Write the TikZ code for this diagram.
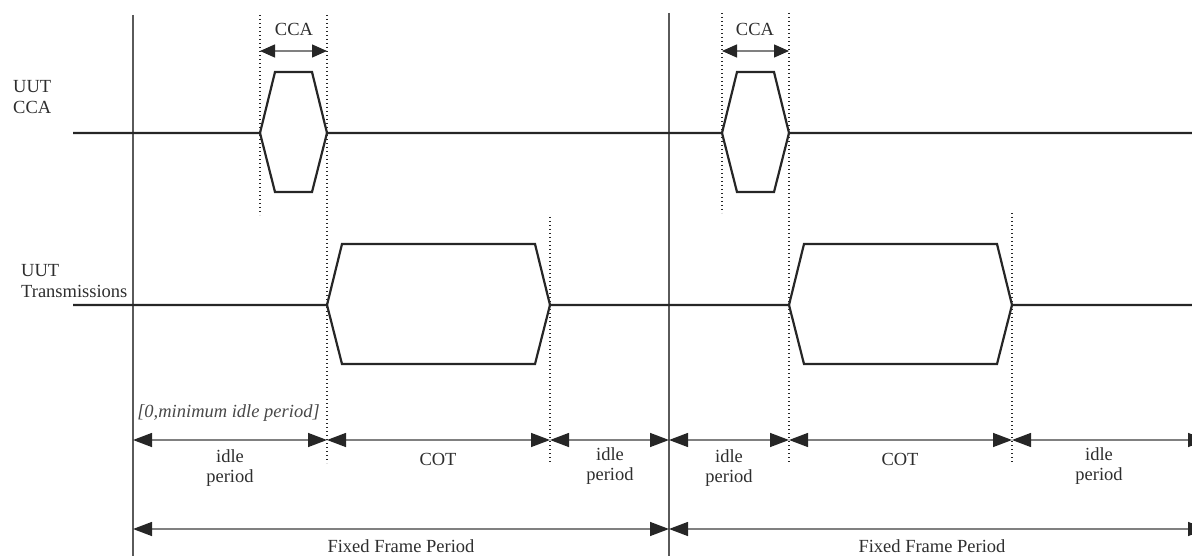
\documentclass[tikz,border=0pt]{standalone}
\usepackage{fontspec}
\setmainfont{Liberation Serif}
\usetikzlibrary{arrows.meta}
\definecolor{sig}{HTML}{262626}
\definecolor{frameclr}{HTML}{5A5A5A}
\definecolor{dimclr}{HTML}{808080}
\definecolor{txt}{HTML}{2E2E2E}
\definecolor{itxt}{HTML}{484848}
\begin{document}
\begin{tikzpicture}[x=1pt,y=-1pt,
  signal/.style={draw=sig,line width=2.2pt,line join=miter},
  frameline/.style={draw=frameclr,line width=1.1pt},
  dotline/.style={draw=sig,line width=1.4pt,dash pattern=on 1.4pt off 2.6pt},
  dimarrow/.style={draw=dimclr,line width=1.4pt,
    {Triangle[length=19pt,width=14pt,color=sig]}-{Triangle[length=19pt,width=14pt,color=sig]}},
  ccaarrow/.style={draw=dimclr,line width=1.4pt,
    {Triangle[length=15pt,width=13pt,color=sig]}-{Triangle[length=15pt,width=13pt,color=sig]}},
  lbl/.style={font=\fontsize{18.5}{20}\selectfont,text=txt,inner sep=0pt,align=center},
  sidelbl/.style={font=\fontsize{18.5}{21}\selectfont,text=txt,inner sep=0pt,align=left,anchor=west}]
\useasboundingbox (0,0) rectangle (1192,556);

% frame lines
\coordinate (f1t) at (133,15); \coordinate (f1b) at (133,560);
\coordinate (f2t) at (669,13); \coordinate (f2b) at (669,560);
\draw[frameline] (f1t) -- (f1b);
\draw[frameline] (f2t) -- (f2b);

% dotted guides
\draw[dotline] (260,15) -- (260,215);
\draw[dotline] (327,15) -- (327,463);
\draw[dotline] (550,217) -- (550,463);
\draw[dotline] (722,13) -- (722,213);
\draw[dotline] (789,13) -- (789,463);
\draw[dotline] (1012,213) -- (1012,463);

% CCA signal
\draw[signal] (73,133) -- (260,133) -- (275,72) -- (312,72) -- (327,133)
  -- (722,133) -- (737,72) -- (774,72) -- (789,133) -- (1196,133);
\draw[signal] (260,133) -- (275,192) -- (312,192) -- (327,133);
\draw[signal] (722,133) -- (737,192) -- (774,192) -- (789,133);

% Transmission signal
\draw[signal] (73,305) -- (327,305) -- (342,244) -- (535,244) -- (550,305)
  -- (789,305) -- (804,244) -- (997,244) -- (1012,305) -- (1196,305);
\draw[signal] (327,305) -- (342,364) -- (535,364) -- (550,305);
\draw[signal] (789,305) -- (804,364) -- (997,364) -- (1012,305);

% side labels
\node[sidelbl] (lcca) at (13,97) {UUT\\CCA};
\node[sidelbl] (ltx) at (21,281) {UUT\\Transmissions};

% CCA dimension arrows
\coordinate (c1a) at (260,51); \coordinate (c1b) at (327,51);
\coordinate (c2a) at (722,51); \coordinate (c2b) at (789,51);
\draw[ccaarrow] (c1a) -- (c1b);
\draw[ccaarrow] (c2a) -- (c2b);
\node[lbl] (tcca1) at (294,29) {CCA};
\node[lbl] (tcca2) at (755,29) {CCA};

% period arrows
\coordinate (p0) at (133,440);
\coordinate (p1) at (327,440);
\coordinate (p2) at (550,440);
\coordinate (p3) at (669,440);
\coordinate (p4) at (789,440);
\coordinate (p5) at (1012,440);
\coordinate (p6) at (1207,440);
\draw[dimarrow] (p0) -- (p1);
\draw[dimarrow] (p1) -- (p2);
\draw[dimarrow] (p2) -- (p3);
\draw[dimarrow] (p3) -- (p4);
\draw[dimarrow] (p4) -- (p5);
\draw[dimarrow] (p5) -- (p6);

\node[lbl,text=itxt,font=\fontsize{18.5}{20}\selectfont\itshape] (minidle) at (228.5,413) {[0,minimum idle period]};
\node[lbl] (i1) at (230,468) {idle\\period};
\node[lbl] (cot1) at (438,459) {COT};
\node[lbl] (i2) at (610,466) {idle\\period};
\node[lbl] (i3) at (729,468) {idle\\period};
\node[lbl] (cot2) at (900,459) {COT};
\node[lbl] (i4) at (1099,466) {idle\\period};

% fixed frame arrows
\coordinate (q0) at (133,529);
\coordinate (q1) at (669,529);
\coordinate (q2) at (1207,529);
\draw[dimarrow] (q0) -- (q1);
\draw[dimarrow] (q1) -- (q2);
\node[lbl] (ff1) at (401,546) {Fixed Frame Period};
\node[lbl] (ff2) at (932,546) {Fixed Frame Period};
\end{tikzpicture}
\end{document}
